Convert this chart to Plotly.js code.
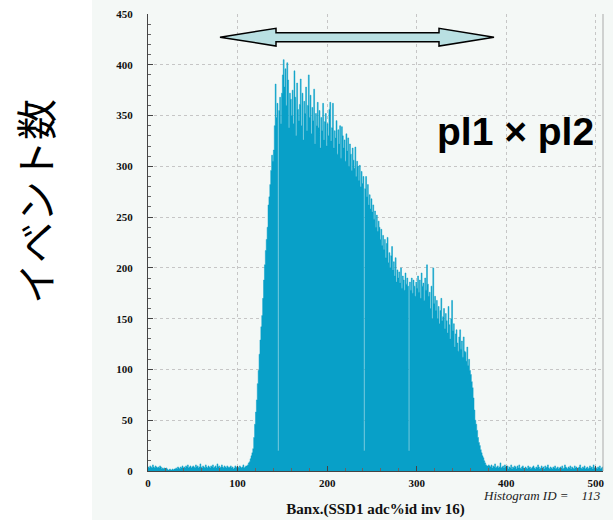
<!DOCTYPE html>
<html>
<head>
<meta charset="utf-8">
<script src="https://cdn.plot.ly/plotly-3.0.1.min.js"></script>
<style>html,body{margin:0;padding:0;background:#ffffff;}#chart{width:613px;height:520px;}</style>
</head>
<body>
<div id="chart"></div>
<script>
// Histogram: bins of width 1 starting at 0 (ADC channel), counts
const binStart = 0;
const binWidth = 1;

const counts_000_099 = [
  4,3,5,4,3,6,4,3,5,4,
  3,4,3,5,4,2,3,2,3,2,
  3,2,1,1,2,1,1,2,1,2,
  2,3,2,4,3,2,4,3,5,3,
  4,3,5,4,6,3,4,5,3,4,
  5,4,3,6,4,5,3,4,7,4,
  3,5,4,3,6,4,3,5,4,3,
  5,4,6,3,4,5,3,7,4,5,
  3,4,6,4,3,5,4,3,5,4,
  3,4,5,3,4,2,3,5,4,3
];
const counts_100_199 = [
  4,3,5,4,3,4,6,3,4,5,
  5,6,8,9,12,15,18,22,33,46,
  58,70,86,99,115,129,142,153,170,188,
  203,217,228,240,262,270,282,296,311,305,
  316,340,381,348,362,20,355,368,342,372,
  390,405,378,396,360,402,385,338,372,366,
  350,375,342,394,368,330,382,356,345,361,
  386,340,372,326,364,352,378,335,360,390,
  348,370,332,358,345,376,322,352,340,363,
  338,355,318,348,335,362,326,344,352,320
];
const counts_200_299 = [
  342,330,356,363,325,338,362,318,335,328,
  345,312,336,322,340,308,339,330,318,326,
  305,332,315,328,300,322,312,296,318,306,
  298,319,290,305,300,286,301,280,295,283,
  290,20,278,290,270,282,262,272,258,268,
  255,262,248,256,240,252,236,246,240,228,
  238,222,232,218,228,210,224,230,205,215,
  200,212,221,198,206,192,210,186,198,190,
  196,185,200,180,192,188,178,195,184,190,
  182,20,186,178,190,175,188,182,172,186
];
const counts_300_399 = [
  180,192,176,188,170,195,182,185,168,190,
  178,203,184,172,176,160,182,150,200,165,
  172,158,168,150,162,145,158,170,148,152,
  160,140,155,148,136,162,144,130,150,168,
  138,145,122,135,139,126,118,132,139,120,
  128,112,132,118,117,108,122,104,110,99,
  95,88,82,72,60,50,46,40,33,28,
  25,21,18,15,13,10,8,6,5,5,
  6,5,4,6,3,5,4,7,3,4,
  5,3,4,8,3,4,5,3,6,4
];
const counts_400_507 = [
  3,5,2,4,3,6,2,4,3,5,
  4,2,5,3,6,3,2,4,5,3,
  2,4,3,2,5,3,4,2,3,4,
  5,3,2,4,3,6,4,2,3,5,
  3,4,2,5,3,4,6,3,2,4,
  3,2,4,3,5,2,3,4,2,3,
  4,3,5,2,3,6,4,3,2,4,
  3,5,2,4,3,2,5,3,4,2,
  3,4,6,3,2,4,3,5,2,3,
  4,2,3,5,3,4,2,6,3,4,
  3,2,4,3,5,2,3,4
];

const xTickVals = [0,100,200,300,400,500];
const yTickVals = [0,50,100,150,200,250,300,350,400,450];

const counts = [].concat(counts_000_099, counts_100_199, counts_200_299, counts_300_399, counts_400_507);
const edges = counts.map((c, i) => binStart + i * binWidth);
edges.push(binStart + counts.length * binWidth);
const stepY = counts.slice();
stepY.push(counts[counts.length - 1]);

const barColor = '#08a0c8';
const trace = {
  type: 'scatter', mode: 'lines',
  x: edges, y: stepY,
  line: {shape: 'hv', color: barColor, width: 0.5},
  fill: 'tozeroy', fillcolor: barColor,
  hoverinfo: 'skip'
};

const tickFont = {family: 'Liberation Serif', size: 11, weight: 'bold', color: '#111'};
const W = 455, H = 457, L = 148, T = 14;
const px = v => (v - L) / W;
const py = v => (T + H - v) / H;

const arrowPath = 'M ' + px(220) + ',' + py(37.2) +
  ' L ' + px(276) + ',' + py(28.3) +
  ' L ' + px(276) + ',' + py(32.7) +
  ' L ' + px(439) + ',' + py(32.7) +
  ' L ' + px(439) + ',' + py(28.3) +
  ' L ' + px(494) + ',' + py(37.2) +
  ' L ' + px(439) + ',' + py(46) +
  ' L ' + px(439) + ',' + py(41.7) +
  ' L ' + px(276) + ',' + py(41.7) +
  ' L ' + px(276) + ',' + py(46) + ' Z';

const layout = {
  width: 613, height: 520,
  margin: {l: L, r: 10, t: T, b: 49, pad: 0},
  paper_bgcolor: '#f4f8f6', plot_bgcolor: '#f4f8f6',
  showlegend: false,
  xaxis: {
    range: [0, 508], tickvals: xTickVals, ticks: 'inside', ticklen: 5, tickcolor: '#444',
    showline: true, linecolor: '#444', linewidth: 1,
    showgrid: true, gridcolor: '#c6c6c6', griddash: 'dot', gridwidth: 1, zeroline: false,
    tickfont: tickFont, ticklabelstandoff: 2,
    minor: {dtick: 20, tick0: 0, ticks: 'inside', ticklen: 3, tickcolor: '#666', showgrid: false},
    title: {text: 'Banx.(SSD1 adc%id inv 16)', font: {family: 'Liberation Serif', size: 15, weight: 'bold', color: '#111'}, standoff: 15}
  },
  yaxis: {
    range: [0, 450], tickvals: yTickVals, ticks: 'inside', ticklen: 5, tickcolor: '#444',
    showline: true, linecolor: '#444', linewidth: 1,
    showgrid: true, gridcolor: '#c6c6c6', griddash: 'dot', gridwidth: 1, zeroline: false,
    tickfont: tickFont, ticklabelstandoff: 12,
    minor: {dtick: 10, tick0: 0, ticks: 'inside', ticklen: 3, tickcolor: '#666', showgrid: false}
  },
  shapes: [
    {type: 'rect', xref: 'paper', yref: 'paper', x0: px(0), x1: px(92), y0: py(520), y1: py(0),
     fillcolor: '#ffffff', line: {width: 0}, layer: 'below'},
    {type: 'line', xref: 'paper', yref: 'paper', x0: 1, x1: 1, y0: 0, y1: 1,
     line: {color: '#aaaaaa', width: 1}},
    {type: 'path', xref: 'paper', yref: 'paper', path: arrowPath,
     fillcolor: '#b9e0e2', line: {color: '#000000', width: 1.5}}
  ],
  annotations: [
    {xref: 'paper', yref: 'paper', x: px(34), y: py(202), text: 'イベント数', textangle: -90,
     showarrow: false, xanchor: 'center', yanchor: 'middle',
     font: {family: 'Noto Sans CJK JP', size: 41, color: '#000'}},
    {xref: 'paper', yref: 'paper', x: px(515), y: py(131), text: 'pl1 × pl2',
     showarrow: false, xanchor: 'center', yanchor: 'middle',
     font: {family: 'Liberation Sans', size: 39, weight: 'bold', color: '#000'}},
    {xref: 'paper', yref: 'paper', x: 1, y: py(495.5), text: 'Histogram ID =\u00A0\u00A0\u00A0\u00A0113',
     showarrow: false, xanchor: 'right', yanchor: 'middle',
     font: {family: 'Liberation Serif', size: 13, style: 'italic', color: '#222'}}
  ]
};

Plotly.newPlot('chart', [trace], layout, {staticPlot: true, displayModeBar: false});
</script>
</body>
</html>
